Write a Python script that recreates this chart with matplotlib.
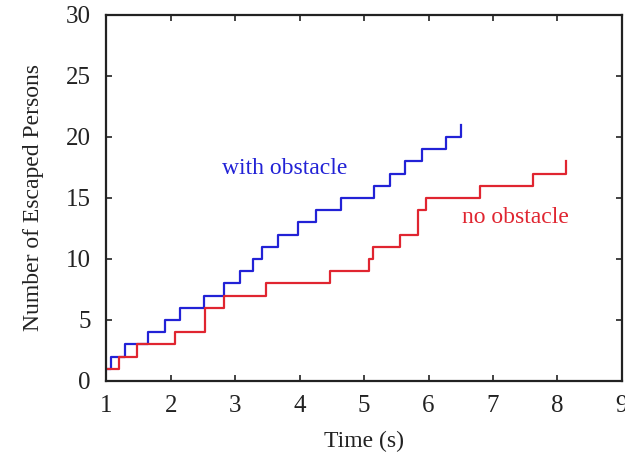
import matplotlib
matplotlib.use("Agg")
import matplotlib.pyplot as plt

plt.rcParams['font.family'] = ['Liberation Serif', 'DejaVu Serif']

t_with = [1.00, 1.08, 1.29, 1.64, 1.91, 2.14, 2.52, 2.82, 3.08, 3.27, 3.42,
          3.67, 3.98, 4.25, 4.64, 5.15, 5.41, 5.63, 5.90, 6.27, 6.51]
n_with = [1, 2, 3, 4, 5, 6, 7, 8, 9, 10, 11,
          12, 13, 14, 15, 16, 17, 18, 19, 20, 21]

t_no = [1.00, 1.20, 1.48, 2.06, 2.53, 2.82, 3.48, 4.47, 5.07, 5.14,
        5.55, 5.84, 5.96, 6.80, 7.62, 8.13]
n_no = [1, 2, 3, 4, 6, 7, 8, 9, 10, 11,
        12, 14, 15, 16, 17, 18]

x_ticks = [1, 2, 3, 4, 5, 6, 7, 8, 9]
y_ticks = [0, 5, 10, 15, 20, 25, 30]

blue = '#2222d6'
red = '#e02530'
dark = '#222222'

fig = plt.figure(figsize=(6.25, 4.54), dpi=100)
ax = fig.add_axes([0.17, 0.161, 0.825, 0.806])

ax.step(t_with, n_with, where='post', color=blue, lw=1.6)
ax.step(t_no, n_no, where='post', color=red, lw=1.6)

ax.text(2.80, 17.4, 'with obstacle', color=blue, fontsize=17, va='center', ha='left')
ax.text(6.52, 13.4, 'no obstacle', color=red, fontsize=17, va='center', ha='left')

ax.set_xlim(1, 9)
ax.set_ylim(0, 30)
ax.set_xticks(x_ticks)
ax.set_yticks(y_ticks)
ax.tick_params(direction='in', top=True, right=True, length=4, width=1.2,
               labelsize=18, colors=dark)
ax.tick_params(axis='x', pad=10)
ax.tick_params(axis='y', pad=11)
for s in ax.spines.values():
    s.set_linewidth(1.6)
    s.set_color(dark)

ax.set_xlabel('Time (s)', fontsize=17, color=dark, labelpad=10)
ax.set_ylabel('Number of Escaped Persons', fontsize=17, color=dark, labelpad=16)

fig.savefig('out.png', dpi=100)
